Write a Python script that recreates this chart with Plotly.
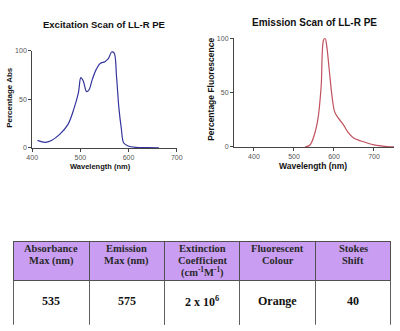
import plotly.graph_objects as go

# Excitation scan (nm, %)
exc_wl = [411, 427, 440, 457, 474, 487, 496, 501, 506, 513, 518, 525, 533, 541, 551, 558, 565, 570, 575, 580, 585, 590, 599, 615, 640, 663]
exc_val = [7.7, 5.7, 7.7, 14, 24, 41, 57, 72.5, 69, 58, 60, 71, 81, 87, 89, 92, 99, 98, 74, 41, 20, 5, 2, 0.5, 0.2, 0]

# Emission scan (nm, %)
em_wl = [528, 540, 550, 560, 568, 574, 578, 582, 588, 596, 602, 612, 624, 636, 648, 668, 700, 732, 750]
em_val = [0, 1.8, 10, 26, 56, 98.5, 100, 92.5, 71.5, 44, 32, 26, 20, 13, 8.4, 5.4, 1.8, 0.3, 0]

xticks = [400, 500, 600, 700]
yticks = [0, 50, 100]

# Table content
headers = [["Absorbance", "Max (nm)"], ["Emission", "Max (nm)"],
           ["Extinction", "Coefficient", "(cm<sup>-1</sup>M<sup>-1</sup>)"],
           ["Fluorescent", "Colour"], ["Stokes", "Shift"]]
values = ["535", "575", "2 x 10<sup>6</sup>", "Orange", "40"]

W, H = 400, 331
def px(x): return x / W
def py(y): return 1 - y / H

TBL_L, TBL_R, TBL_T, TBL_B = 8, 397, 243, 328
HDR_H, ROW_H = 39, 45

fig = go.Figure()
fig.add_trace(go.Scatter(x=exc_wl, y=exc_val, mode="lines", line=dict(color="#34349e", width=1.2, shape="spline"),
                         xaxis="x", yaxis="y", showlegend=False))
fig.add_trace(go.Scatter(x=em_wl, y=em_val, mode="lines", line=dict(color="#c0505e", width=1.2, shape="spline"),
                         xaxis="x2", yaxis="y2", showlegend=False))

# Table grid & fills (text laid out as annotations below for tighter line spacing)
ncol = len(values)
fig.add_trace(go.Table(
    domain=dict(x=[px(TBL_L), px(TBL_R)], y=[py(TBL_B), py(TBL_T)]),
    columnwidth=[1] * ncol,
    header=dict(values=[""] * ncol, fill_color="#c99ef2", line=dict(color="#505050", width=1), height=HDR_H),
    cells=dict(values=[[""] for _ in values], fill_color="white", line=dict(color="#606060", width=1), height=ROW_H),
))

axcommon = dict(showgrid=False, zeroline=False, showline=True, linecolor="#444444", linewidth=1,
                ticks="outside", ticklen=3, tickcolor="#444444",
                tickfont=dict(family="Arial", size=7, color="#555555"))

fig.update_layout(
    width=W, height=H, margin=dict(l=0, r=0, t=0, b=0),
    paper_bgcolor="white", plot_bgcolor="white",
    xaxis=dict(domain=[px(27), px(176)], range=[400, 700], tickvals=xticks, anchor="y", **axcommon),
    yaxis=dict(domain=[py(147), py(48)], range=[0, 100], tickvals=yticks, anchor="x", **axcommon),
    xaxis2=dict(domain=[px(235), px(400)], range=[350, 750], tickvals=xticks, anchor="y2", **axcommon),
    yaxis2=dict(domain=[py(146), py(35)], range=[0, 100], tickvals=yticks, anchor="x2", **axcommon),
)

def tf(size, fam="Arial"):
    return dict(family=fam, size=size, color="#111111")

ann = [
    dict(text="<b>Excitation Scan of LL-R PE</b>", x=px(101), y=py(21), font=tf(9.5)),
    dict(text="<b>Emission Scan of LL-R PE</b>", x=px(318), y=py(19), font=tf(10)),
    dict(text="<b>Wavelength (nm)</b>", x=px(97), y=py(166), font=tf(7.5)),
    dict(text="<b>Wavelength (nm)</b>", x=px(317), y=py(166), font=tf(8.5)),
    dict(text="<b>Percentage Abs</b>", x=px(4), y=py(95), textangle=-90, font=tf(8)),
    dict(text="<b>Percentage Fluorescence</b>", x=px(212), y=py(87), textangle=-90, font=tf(8.5)),
]

colw = (TBL_R - TBL_L) / ncol
line_y = [249.5, 262.5, 273.5]
for i, (hdr, val) in enumerate(zip(headers, values)):
    cx = TBL_L + colw * (i + 0.5)
    for j, line in enumerate(hdr):
        ann.append(dict(text="<b>%s</b>" % line, x=px(cx), y=py(line_y[j]),
                        font=dict(family="Liberation Serif", size=10.5, color="#2a2a2a")))
    ann.append(dict(text="<b>%s</b>" % val, x=px(cx), y=py(TBL_T + HDR_H + ROW_H / 2 - 1),
                    font=dict(family="Liberation Serif", size=12, color="#111111")))

for a in ann:
    a.update(xref="paper", yref="paper", showarrow=False, xanchor="center", yanchor="middle")
fig.update_layout(annotations=ann)

fig.write_html("out.html")
